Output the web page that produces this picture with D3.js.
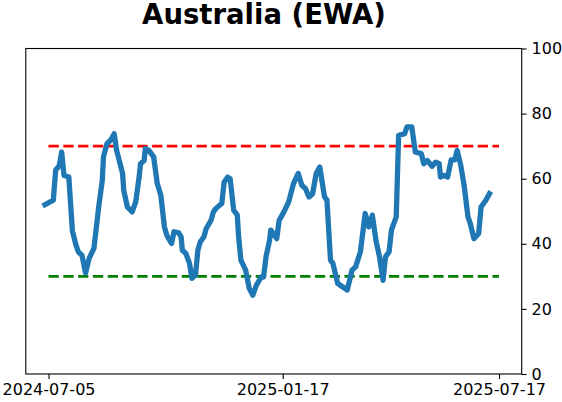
<!DOCTYPE html>
<html>
<head>
<meta charset="utf-8">
<script src="https://cdn.jsdelivr.net/npm/d3@7"></script>
<style>
  body { margin: 0; background: #fff; }
  svg { display: block; font-family: "DejaVu Sans", sans-serif; }
</style>
</head>
<body>
<script>
// Series
var dates = [
  "2024-07-02","2024-07-09","2024-07-11","2024-07-14","2024-07-16","2024-07-18","2024-07-22","2024-07-25",
  "2024-07-28","2024-07-30","2024-08-02","2024-08-05","2024-08-08","2024-08-12","2024-08-13","2024-08-16",
  "2024-08-19","2024-08-20","2024-08-23","2024-08-26","2024-08-29","2024-08-31","2024-09-05","2024-09-06",
  "2024-09-09","2024-09-13","2024-09-16","2024-09-19","2024-09-20","2024-09-23","2024-09-24","2024-09-27",
  "2024-10-01","2024-10-04","2024-10-07","2024-10-10","2024-10-12","2024-10-16","2024-10-18","2024-10-22",
  "2024-10-24","2024-10-25","2024-10-28","2024-10-31","2024-11-02","2024-11-05","2024-11-07","2024-11-09",
  "2024-11-12","2024-11-14","2024-11-18","2024-11-20","2024-11-22","2024-11-25","2024-11-27","2024-11-29",
  "2024-12-02","2024-12-04","2024-12-07","2024-12-10","2024-12-11","2024-12-13","2024-12-17","2024-12-20",
  "2024-12-23","2024-12-26","2024-12-30","2025-01-01","2025-01-03","2025-01-06","2025-01-07","2025-01-12",
  "2025-01-14","2025-01-18","2025-01-22","2025-01-26","2025-01-30","2025-02-02","2025-02-05","2025-02-08",
  "2025-02-11","2025-02-14","2025-02-17","2025-02-21","2025-02-23","2025-02-26","2025-02-28","2025-03-04",
  "2025-03-08","2025-03-12","2025-03-16","2025-03-19","2025-03-23","2025-03-27","2025-03-30","2025-04-02",
  "2025-04-05","2025-04-08","2025-04-11","2025-04-13","2025-04-16","2025-04-18","2025-04-22","2025-04-24",
  "2025-04-29","2025-05-01","2025-05-05","2025-05-08","2025-05-13","2025-05-15","2025-05-18","2025-05-22",
  "2025-05-25","2025-05-28","2025-05-29","2025-06-01","2025-06-04","2025-06-07","2025-06-10","2025-06-12",
  "2025-06-15","2025-06-18","2025-06-21","2025-06-23","2025-06-26","2025-06-30","2025-07-02","2025-07-06",
  "2025-07-09"
];
var values = [
  52.0, 53.4, 62.6, 64.0, 68.2, 61.0, 60.5, 44.0,
  39.6, 37.5, 36.5, 31.0, 35.5, 38.6, 41.7, 51.3,
  59.5, 66.7, 70.8, 71.8, 73.8, 68.7, 61.6, 56.4,
  51.3, 49.8, 52.9, 61.0, 64.6, 65.6, 69.2, 68.7,
  66.7, 58.5, 54.9, 45.2, 42.6, 40.1, 43.7, 43.4,
  42.1, 38.0, 37.0, 34.0, 29.4, 30.4, 38.0, 40.6,
  42.1, 44.7, 47.2, 49.8, 50.8, 51.8, 52.4, 59.0,
  60.5, 60.0, 50.3, 48.8, 42.6, 35.0, 31.9, 26.3,
  24.2, 27.3, 29.8, 29.8, 36.0, 41.1, 44.2, 41.6,
  47.2, 49.8, 52.9, 58.5, 61.6, 58.0, 57.0, 54.4,
  55.4, 61.6, 63.6, 54.4, 53.4, 35.0, 34.0, 27.8,
  26.8, 25.8, 31.9, 32.9, 37.5, 49.3, 45.2, 48.8,
  41.1, 36.0, 28.8, 36.0, 37.5, 44.2, 48.3, 73.3,
  73.8, 75.9, 75.9, 68.2, 67.7, 64.6, 65.6, 63.8,
  65.1, 64.6, 60.5, 61.0, 60.5, 65.8, 65.8, 68.7,
  64.1, 57.5, 48.3, 46.2, 41.6, 43.2, 51.3, 53.4,
  55.4
];

// Axis limits and tick labels
var xLimits = ["2024-06-16", "2025-08-05"];
var xTicks = ["2024-07-05", "2025-01-17", "2025-07-17"];
var yLimits = [0, 100];
var yTicks = [0, 20, 40, 60, 80, 100];

// Threshold lines: span and levels
var thresholdSpan = ["2024-07-05", "2025-07-17"];
var thresholds = [
  {level: 70, color: "#ff0000"},
  {level: 30, color: "#008000"}
];

var title = "Australia (EWA)";

var canvas = {w: 562, h: 402},
    margin = {top: 48.5, right: 40.3, bottom: 28, left: 25.8},
    width = canvas.w - margin.left - margin.right,
    height = canvas.h - margin.top - margin.bottom;

var parseDate = d3.utcParse("%Y-%m-%d");

var svg = d3.select("body").append("svg")
    .attr("width", canvas.w)
    .attr("height", canvas.h);

var g = svg.append("g")
    .attr("transform", "translate(" + margin.left + "," + margin.top + ")");

var x = d3.scaleUtc()
    .domain(xLimits.map(parseDate))
    .range([0, width]);

var y = d3.scaleLinear()
    .domain(yLimits)
    .range([height, 0]);

var data = dates.map(function(d, i) {
    return {date: parseDate(d), value: values[i]};
});

// title
svg.append("text")
    .attr("x", 264)
    .attr("y", 23.5)
    .attr("text-anchor", "middle")
    .attr("font-size", "27.5px")
    .attr("font-weight", "bold")
    .attr("fill", "#000")
    .text(title);

// threshold lines
g.selectAll(".threshold")
    .data(thresholds)
    .enter().append("line")
    .attr("class", "threshold")
    .attr("x1", x(parseDate(thresholdSpan[0])))
    .attr("x2", x(parseDate(thresholdSpan[1])))
    .attr("y1", function(d) { return y(d.level); })
    .attr("y2", function(d) { return y(d.level); })
    .attr("stroke", function(d) { return d.color; })
    .attr("stroke-width", 2.8)
    .attr("stroke-dasharray", "10.3,4.5");

// main line
var line = d3.line()
    .x(function(d) { return x(d.date); })
    .y(function(d) { return y(d.value); });

g.append("path")
    .datum(data)
    .attr("fill", "none")
    .attr("stroke", "#1f77b4")
    .attr("stroke-width", 5.3)
    .attr("stroke-linejoin", "round")
    .attr("stroke-linecap", "square")
    .attr("d", line);

// bottom axis
var xAxis = g.append("g")
    .attr("transform", "translate(0," + height + ")")
    .call(d3.axisBottom(x)
        .tickValues(xTicks.map(parseDate))
        .tickFormat(d3.utcFormat("%Y-%m-%d"))
        .tickSize(4.9)
        .tickPadding(4.5)
        .tickSizeOuter(0));

// right axis
var yAxis = g.append("g")
    .attr("transform", "translate(" + width + ",0)")
    .call(d3.axisRight(y)
        .tickValues(yTicks)
        .tickSize(4.9)
        .tickPadding(5)
        .tickSizeOuter(0));

[xAxis, yAxis].forEach(function(a) {
    a.select(".domain").remove();
    a.selectAll("line").attr("stroke", "#000").attr("stroke-width", 1.1);
    a.selectAll("text")
        .attr("fill", "#000")
        .attr("font-size", "16px")
        .attr("font-family", "DejaVu Sans, sans-serif");
});

// frame
g.append("rect")
    .attr("x", 0)
    .attr("y", 0)
    .attr("width", width)
    .attr("height", height)
    .attr("fill", "none")
    .attr("stroke", "#000")
    .attr("stroke-width", 1.1);
</script>
</body>
</html>
